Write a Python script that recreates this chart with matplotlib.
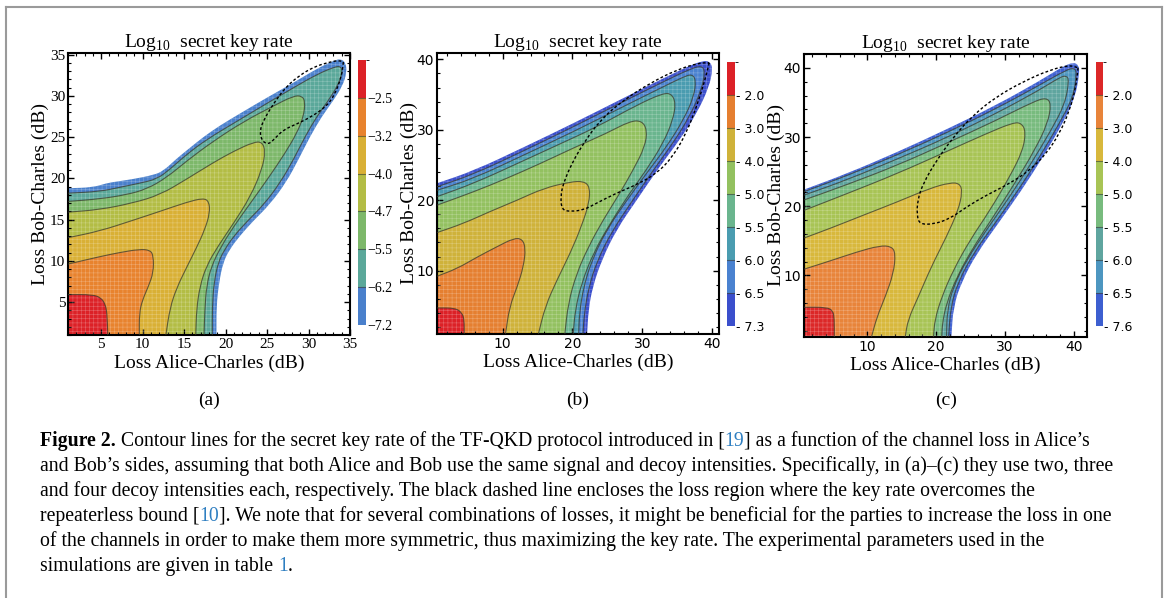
import numpy as np
import matplotlib.pyplot as plt
from matplotlib.patches import PathPatch
from matplotlib.path import Path
from matplotlib.colors import ListedColormap, BoundaryNorm
from matplotlib.cm import ScalarMappable
from matplotlib.lines import Line2D
from matplotlib.ticker import MultipleLocator

plt.rcParams['font.family'] = ['Liberation Serif', 'DejaVu Serif']
plt.rcParams['mathtext.fontset'] = 'custom'
plt.rcParams['mathtext.rm'] = 'Liberation Serif'
plt.rcParams['hatch.linewidth'] = 0.4

# ---- (a) two decoy intensities ----
a_levels = [-7.2, -6.2, -5.5, -4.7, -4.0, -3.2, -2.5, -1.8]
a_labels = ['\u22127.2', '\u22126.2', '\u22125.5', '\u22124.7', '\u22124.0', '\u22123.2', '\u22122.5']
a_colors = ['#4a80cc', '#5ba89a', '#7db86a', '#b3bd45', '#d9b035', '#e8832e', '#dc2127']
a_m72 = [(1.0, 18.8), (4.0, 18.9), (5.6, 19.4), (6.8, 19.6), (8.8, 19.9), (11.3, 20.4), (12.5, 20.9),
         (14.1, 22.4), (15.7, 23.7), (17.3, 25.0), (19.3, 26.4), (21.8, 27.9), (25.0, 29.8), (28.2, 31.6),
         (31.0, 33.3), (33.1, 34.3), (33.9, 34.5), (34.5, 34.0), (34.6, 32.8), (34.1, 31.2), (32.9, 29.3),
         (31.6, 27.5), (30.2, 25.1), (28.8, 22.3), (27.3, 19.5), (25.3, 16.8), (23.3, 14.8), (21.7, 13.0),
         (20.5, 11.4), (19.7, 9.8), (19.2, 7.3), (18.9, 4.5), (18.9, 1.0)]
a_m62 = [(1.0, 18.2), (4.8, 18.4), (7.2, 18.9), (9.6, 19.4), (11.7, 19.9), (13.3, 21.1), (15.3, 22.9),
         (17.7, 24.7), (21.0, 26.7), (25.0, 29.1), (28.2, 31.0), (31.0, 32.6), (33.1, 33.5), (33.9, 33.6),
         (34.1, 32.8), (33.5, 31.2), (32.3, 29.3), (31.0, 27.5), (29.6, 25.1), (28.2, 22.3), (26.6, 19.5),
         (24.6, 16.8), (22.6, 14.8), (21.0, 13.0), (19.9, 11.4), (19.1, 9.8), (18.6, 7.3), (18.4, 4.5),
         (18.4, 1.0)]
a_m55 = [(1.0, 17.2), (4.8, 17.5), (8.0, 18.0), (10.5, 18.7), (12.9, 20.1), (15.3, 22.1), (18.5, 24.5),
         (22.2, 26.9), (25.8, 28.8), (28.2, 30.0), (29.2, 30.0), (29.6, 29.3), (29.4, 27.5), (28.6, 25.5),
         (27.2, 23.1), (25.2, 20.1), (23.0, 17.0), (21.0, 14.2), (19.5, 11.8), (18.3, 9.4), (17.7, 6.9),
         (17.5, 4.1), (17.4, 1.0)]
a_m47 = [(1.0, 15.9), (4.8, 16.2), (8.8, 17.0), (12.1, 18.0), (15.3, 19.9), (18.5, 21.9), (21.0, 23.3),
         (23.4, 24.4), (24.4, 24.4), (24.8, 23.3), (24.4, 21.1), (23.0, 17.8), (21.0, 14.6), (19.1, 11.8),
         (17.7, 9.4), (16.9, 6.9), (16.5, 4.1), (16.4, 1.0)]
a_m40 = [(1.0, 12.8), (4.8, 13.6), (8.8, 14.9), (12.1, 16.0), (15.3, 17.1), (17.3, 17.6), (18.0, 17.2),
         (18.1, 15.8), (17.5, 13.8), (16.5, 11.6), (15.3, 9.2), (14.1, 6.7), (13.3, 4.3), (12.8, 1.0)]
a_m32 = [(1.0, 9.6), (4.8, 10.5), (7.2, 11.0), (9.6, 11.4), (10.9, 11.3), (11.3, 10.6), (11.3, 8.6),
         (10.7, 6.9), (10.0, 5.3), (9.6, 3.7), (9.6, 1.0)]
a_m25 = [(1.0, 5.9), (4.0, 5.9), (5.0, 5.5), (5.5, 4.7), (5.7, 3.7), (5.8, 1.0)]
a_bound = [(34.2, 34.1), (34.0, 32.4), (33.1, 30.0), (32.1, 28.7), (30.4, 27.5), (28.6, 26.6), (27.0, 25.9),
           (26.0, 24.9), (25.2, 24.1), (24.4, 24.5), (24.1, 25.7), (24.6, 27.1), (25.8, 29.1), (27.2, 31.0),
           (28.8, 32.4), (30.6, 33.5), (32.5, 34.1), (33.7, 34.3), (34.2, 34.1)]

# ---- (b) three decoy intensities ----
b_levels = [-7.3, -6.5, -6.0, -5.5, -5.0, -4.0, -3.0, -2.0, -1.0]
b_labels = ['- 7.3', '- 6.5', '- 6.0', '- 5.5', '- 5.0', '- 4.0', '- 3.0', '- 2.0']
b_colors = ['#3b4fcc', '#4a82d0', '#4a9cb0', '#6ab58e', '#93c160', '#cfb23a', '#e57f30', '#dc2127']
b_m73 = [(0.6, 22.4), (5.9, 24.2), (13.0, 27.5), (20.1, 30.9), (27.3, 34.5), (33.0, 37.3), (36.8, 39.1),
         (38.7, 39.8), (39.7, 39.7), (40.1, 38.7), (39.6, 36.1), (37.8, 32.3), (35.4, 28.6), (32.5, 24.8),
         (29.2, 20.0), (26.3, 15.8), (24.2, 11.5), (22.9, 7.7), (22.3, 4.4), (22.1, 0.9)]
b_m65 = [(0.6, 21.9), (5.9, 23.7), (13.0, 27.0), (20.1, 30.4), (27.3, 34.0), (33.0, 36.8), (36.8, 38.6),
         (38.5, 39.1), (39.0, 38.3), (38.5, 35.7), (36.8, 31.9), (34.4, 28.1), (31.6, 24.3), (28.5, 19.8),
         (25.6, 15.5), (23.5, 11.3), (22.3, 7.5), (21.7, 3.9), (21.5, 0.9)]
b_m60 = [(0.6, 21.4), (5.9, 23.1), (13.0, 26.4), (20.1, 29.7), (27.3, 33.3), (33.0, 36.1), (35.9, 37.5),
         (37.1, 37.9), (37.7, 37.1), (37.4, 34.7), (35.9, 31.4), (33.5, 27.6), (30.6, 23.8), (27.8, 20.0),
         (24.9, 15.8), (22.8, 11.5), (21.6, 7.7), (21.0, 3.9), (20.9, 0.9)]
b_m55 = [(0.6, 20.5), (5.9, 22.4), (12.1, 25.2), (17.8, 27.8), (23.5, 30.4), (29.2, 33.5), (33.0, 35.2),
         (34.2, 35.1), (34.8, 33.8), (34.4, 31.4), (33.0, 28.1), (30.6, 24.3), (28.2, 21.0), (25.4, 16.7),
         (23.0, 12.5), (21.3, 8.2), (20.4, 4.4), (20.1, 0.9)]
b_m50 = [(0.6, 19.3), (5.9, 21.2), (10.6, 23.1), (15.4, 25.2), (20.1, 27.4), (24.9, 29.5), (28.2, 31.2),
         (29.9, 31.3), (30.7, 30.0), (30.4, 27.6), (28.7, 24.3), (26.8, 21.0), (24.4, 17.2), (22.3, 13.4),
         (20.6, 9.6), (19.4, 5.4), (18.9, 0.9)]
b_m40 = [(0.6, 15.4), (4.4, 16.7), (8.2, 18.4), (12.1, 20.0), (15.9, 21.7), (19.7, 22.6), (21.6, 22.7),
         (22.5, 21.9), (22.4, 19.6), (21.3, 16.3), (19.7, 12.5), (17.8, 8.7), (16.1, 4.9), (15.1, 0.9)]
b_m30 = [(0.6, 9.2), (3.5, 10.3), (6.3, 11.9), (9.2, 13.4), (11.6, 14.6), (12.8, 14.5), (13.3, 13.2),
         (13.0, 10.6), (12.1, 7.7), (11.0, 4.9), (10.4, 0.9)]
b_m20 = [(0.6, 4.7), (3.2, 4.7), (4.2, 4.0), (4.5, 3.0), (4.5, 0.9)]
b_bound = [(39.6, 39.5), (39.0, 37.1), (37.8, 33.3), (36.3, 29.5), (34.4, 26.2), (32.1, 23.8), (29.2, 22.2),
           (26.3, 21.0), (23.5, 19.6), (21.6, 18.6), (19.7, 18.4), (18.5, 18.6), (18.3, 20.5), (18.7, 22.4),
           (19.9, 25.2), (21.6, 28.1), (24.0, 31.4), (27.3, 34.2), (31.1, 36.6), (34.9, 38.5), (38.2, 39.5),
           (39.6, 39.5)]

# ---- (c) four decoy intensities ----
c_levels = [-7.6, -6.5, -6.0, -5.5, -5.0, -4.0, -3.0, -2.0, -1.0]
c_labels = ['- 7.6', '- 6.5', '- 6.0', '- 5.5', '- 5.0', '- 4.0', '- 3.0', '- 2.0']
c_colors = ['#3d5fd0', '#4d96c0', '#5fa59f', '#78bb7e', '#a8c455', '#d8b83c', '#e8843a', '#dc2828']
c_m76 = [(0.8, 22.4), (7.0, 24.7), (14.3, 27.8), (21.5, 31.1), (28.7, 34.6), (35.0, 38.1), (38.4, 40.2),
         (39.9, 40.8), (40.7, 40.4), (40.8, 39.2), (40.2, 35.8), (38.4, 32.0), (35.5, 27.1), (32.4, 22.3),
         (29.0, 17.5), (25.9, 13.2), (23.7, 9.1), (22.5, 5.5), (22.2, 1.1)]
c_m65 = [(0.8, 22.1), (7.0, 24.4), (14.3, 27.4), (21.5, 30.6), (28.7, 34.1), (35.0, 37.5), (38.9, 39.7),
         (40.1, 40.0), (40.4, 39.2), (39.9, 35.8), (37.9, 32.0), (35.0, 27.1), (31.9, 22.3), (28.5, 17.5),
         (25.4, 13.2), (23.2, 9.1), (22.1, 5.5), (21.8, 1.1)]
c_m60 = [(0.8, 21.6), (7.0, 23.8), (14.3, 26.8), (21.5, 29.9), (28.7, 33.4), (35.0, 36.8), (37.9, 38.6),
         (38.9, 38.9), (39.3, 38.2), (38.7, 34.8), (36.7, 31.0), (33.8, 26.2), (30.7, 21.4), (27.3, 16.6),
         (24.4, 12.2), (22.5, 8.4), (21.6, 5.0), (21.5, 1.1)]
c_m55 = [(0.8, 20.9), (7.0, 23.1), (14.3, 25.9), (21.5, 29.1), (28.7, 32.4), (34.1, 35.1), (36.0, 35.7),
         (36.7, 34.8), (36.2, 32.0), (34.3, 28.1), (31.4, 23.3), (28.3, 18.5), (25.4, 14.1), (23.0, 9.8),
         (21.5, 6.0), (20.9, 3.1), (20.8, 1.1)]
c_m50 = [(0.8, 19.4), (7.0, 21.8), (14.3, 24.7), (21.5, 27.9), (27.3, 30.5), (31.2, 32.1), (32.4, 32.0),
         (33.0, 30.8), (32.6, 28.1), (30.7, 24.3), (27.8, 19.4), (24.9, 15.1), (22.5, 10.8), (20.8, 6.9),
         (19.8, 3.6), (19.6, 1.1)]
c_m40 = [(0.8, 15.4), (4.6, 16.8), (9.4, 18.7), (14.3, 20.6), (19.1, 22.6), (22.0, 23.4), (23.4, 23.3),
         (23.8, 22.1), (23.2, 19.4), (21.5, 15.6), (19.3, 11.3), (17.4, 6.9), (15.9, 3.6), (15.5, 1.1)]
c_m30 = [(0.8, 10.9), (4.6, 12.1), (8.5, 13.4), (11.8, 14.3), (13.5, 14.2), (14.1, 13.2), (13.8, 10.3),
         (12.6, 6.9), (11.4, 4.0), (10.6, 1.1)]
c_m20 = [(0.8, 5.4), (4.1, 5.4), (5.0, 4.9), (5.2, 3.8), (5.2, 1.1)]
c_bound = [(40.6, 40.0), (40.3, 37.3), (39.4, 33.9), (37.9, 30.5), (36.0, 27.6), (33.6, 25.2), (30.7, 23.3),
           (27.3, 21.6), (24.4, 19.9), (22.0, 18.2), (19.6, 17.4), (17.6, 17.4), (17.2, 18.7), (17.3, 20.9),
           (18.1, 23.3), (20.1, 26.7), (22.5, 30.0), (25.4, 33.2), (28.7, 35.8), (32.6, 38.0), (36.5, 39.7),
           (39.4, 40.4), (40.6, 40.0)]

W, H = 1165, 598
fig = plt.figure(figsize=(W / 100, H / 100), dpi=100)


def box(x0, y0, x1, y1):
    # pixel box (top-left origin) -> figure fraction rect
    return [x0 / W, 1 - y1 / H, (x1 - x0) / W, (y1 - y0) / H]


def curve(pts):
    # rounded path through the contour vertices (quadratic segments between midpoints)
    p = np.asarray(pts, dtype=float)
    mids = (p[:-1] + p[1:]) / 2
    verts = [p[0], mids[0]]
    codes = [Path.MOVETO, Path.LINETO]
    for i in range(1, len(p) - 1):
        verts += [p[i], mids[i]]
        codes += [Path.CURVE3, Path.CURVE3]
    verts.append(p[-1])
    codes.append(Path.LINETO)
    return verts, codes


def region(pts, x0, y0):
    # close a contour against the left and bottom edges (beyond the axes limits)
    verts, codes = curve(pts)
    verts = verts + [(pts[-1][0], y0), (x0, y0), (x0, pts[0][1]), pts[0]]
    codes = codes + [Path.LINETO, Path.LINETO, Path.LINETO, Path.CLOSEPOLY]
    return Path(verts, codes)


line_col = '#3a3a2c'


def panel(rect, crect, contours, colors, levels, labels, bound, xlim, ylim, major, minor, sans):
    ax = fig.add_axes(box(*rect))
    x0, y0 = xlim[0] - 3, ylim[0] - 3
    for pts, col in zip(contours, colors):
        ax.add_patch(PathPatch(region(pts, x0, y0), facecolor=col, edgecolor='none', lw=0, zorder=1))
    # faint mesh texture over the filled area
    ax.add_patch(PathPatch(region(contours[0], x0, y0), facecolor='none', edgecolor=(1, 1, 1, 0.3),
                           lw=0, hatch='++++', zorder=2))
    for pts in contours[1:]:
        ax.add_patch(PathPatch(Path(*curve(pts)), facecolor='none', edgecolor=line_col,
                               lw=0.8, alpha=0.75, zorder=3))
    ax.add_patch(PathPatch(Path(*curve(bound)), facecolor='none', edgecolor='black',
                           lw=1.0, ls=(0, (2, 1.6)), zorder=4))

    ax.set_xlim(*xlim)
    ax.set_ylim(*ylim)
    for v in ['xaxis', 'yaxis']:
        getattr(ax, v).set_major_locator(MultipleLocator(major))
        getattr(ax, v).set_minor_locator(MultipleLocator(minor))
    ax.tick_params(which='both', direction='in', top=True, right=True, color='black')
    ax.tick_params(which='major', length=4, width=1.0, labelsize=11 if not sans else 10, pad=2)
    ax.tick_params(which='minor', length=2, width=0.8)
    if sans:
        ax.tick_params(labelfontfamily='DejaVu Sans')
    for s in ax.spines.values():
        s.set_linewidth(1.5)
    ax.set_title('Log$_{10}$  secret key rate', fontsize=14, pad=4)
    ax.set_xlabel('Loss Alice-Charles (dB)', fontsize=14)
    ax.set_ylabel('Loss Bob-Charles (dB)', fontsize=14)
    ax.xaxis.set_label_coords(0.5, -0.07)
    ax.yaxis.set_label_coords(-0.068, 0.5)

    cax = fig.add_axes(box(*crect))
    sm = ScalarMappable(norm=BoundaryNorm(levels, len(colors)), cmap=ListedColormap(colors))
    cb = fig.colorbar(sm, cax=cax, ticks=levels[:-1])
    cb.set_ticklabels(labels)
    cb.outline.set_visible(False)
    cax.tick_params(length=0, pad=1, labelsize=9 if sans else 10)
    if sans:
        cax.tick_params(labelfontfamily='DejaVu Sans')
    for lv in levels[1:-1]:
        cax.axhline(lv, color=line_col, lw=0.8, alpha=0.6)
    return ax


panel((68, 53, 350, 335), (358, 60, 366, 325),
      [a_m72, a_m62, a_m55, a_m47, a_m40, a_m32, a_m25], a_colors, a_levels, a_labels, a_bound,
      (1, 35), (1, 35.2), 5, 1, False)
panel((437, 53, 719, 334), (727, 62, 735, 326),
      [b_m73, b_m65, b_m60, b_m55, b_m50, b_m40, b_m30, b_m20], b_colors, b_levels, b_labels, b_bound,
      (0.6, 41), (1, 40.9), 10, 2, True)
panel((804, 54, 1087, 337), (1096, 62, 1103, 326),
      [c_m76, c_m65, c_m60, c_m55, c_m50, c_m40, c_m30, c_m20], c_colors, c_levels, c_labels, c_bound,
      (0.8, 41.9), (1.1, 42), 10, 2, True)

for x, s in [(209, '(a)'), (578, '(b)'), (946, '(c)')]:
    fig.text(x / W, 1 - 400 / H, s, ha='center', va='center', fontsize=14)

# caption, built piece by piece so the references can be coloured
link = '#2f7fc1'
caption = [
    [('Figure 2.', 'black', 'bold'),
     (' Contour lines for the secret key rate of the TF-QKD protocol introduced in [', 'black', 'normal'),
     ('19', link, 'normal'), ('] as a function of the channel loss in Alice\u2019s', 'black', 'normal')],
    [('and Bob\u2019s sides, assuming that both Alice and Bob use the same signal and decoy intensities. '
      'Specifically, in (a)\u2013(c) they use two, three', 'black', 'normal')],
    [('and four decoy intensities each, respectively. The black dashed line encloses the loss region '
      'where the key rate overcomes the', 'black', 'normal')],
    [('repeaterless bound [', 'black', 'normal'), ('10', link, 'normal'),
     ('].  We note that for several combinations of losses, it might be beneficial for the parties to '
      'increase the loss in one', 'black', 'normal')],
    [('of the channels in order to make them more symmetric, thus maximizing the key rate. The experimental '
      'parameters used in the', 'black', 'normal')],
    [('simulations are given in table ', 'black', 'normal'), ('1', link, 'normal'), ('.', 'black', 'normal')],
]
cap_size = 14.2
renderer = fig.canvas.get_renderer()


def text_width(s, weight):
    t = fig.text(0, 0, '|' + s + '|', fontsize=cap_size, weight=weight)
    w = t.get_window_extent(renderer=renderer).width
    t.remove()
    t = fig.text(0, 0, '||', fontsize=cap_size, weight=weight)
    w -= t.get_window_extent(renderer=renderer).width
    t.remove()
    return w


for i, parts in enumerate(caption):
    x = 40
    y = 446 + i * 25
    for s, col, weight in parts:
        s = s.replace('.  ', '. ')
        fig.text(x / W, 1 - y / H, s, fontsize=cap_size, color=col, weight=weight, va='baseline')
        x += text_width(s, weight)

# grey frame around the figure
frame = dict(color='#9a9a9a', lw=1.5, transform=fig.transFigure)
fig.add_artist(Line2D([6 / W, 6 / W], [0, 1 - 6.5 / H], **frame))
fig.add_artist(Line2D([6 / W, 1162 / W], [1 - 6.5 / H, 1 - 6.5 / H], **frame))
fig.add_artist(Line2D([1162 / W, 1162 / W], [0, 1 - 6.5 / H], **frame))

fig.savefig('out.png', dpi=100)
